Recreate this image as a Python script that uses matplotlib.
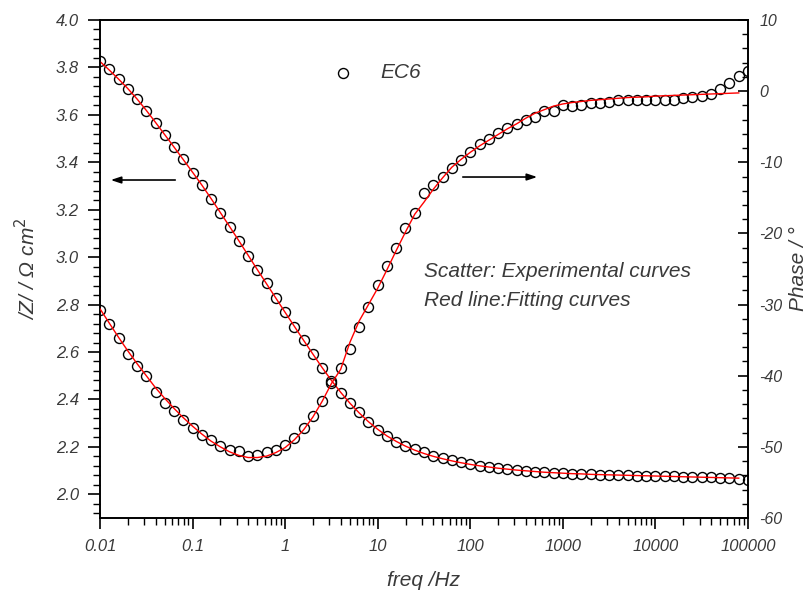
import numpy as np
import matplotlib
matplotlib.use("Agg")
import matplotlib.pyplot as plt
from matplotlib.ticker import MultipleLocator, FixedLocator, FixedFormatter, NullFormatter, LogLocator
from matplotlib.lines import Line2D

# ---------------- data ----------------
# frequency grid: 10 points per decade, 0.01 Hz .. 100 kHz
freq = 10 ** (np.arange(71) / 10.0 - 2)
fit_freq = freq[:70]

# log|Z| experimental (scatter)
logz_exp = [
    3.828, 3.792, 3.753, 3.711, 3.667, 3.617, 3.566, 3.515, 3.464, 3.415,
    3.356, 3.305, 3.246, 3.187, 3.129, 3.070, 3.006, 2.947, 2.889, 2.827,
    2.767, 2.707, 2.650, 2.591, 2.531, 2.478, 2.428, 2.386, 2.345, 2.305,
    2.272, 2.245, 2.222, 2.205, 2.190, 2.177, 2.163, 2.153, 2.144, 2.135,
    2.127, 2.121, 2.115, 2.110, 2.106, 2.102, 2.099, 2.096, 2.093, 2.090,
    2.088, 2.086, 2.085, 2.084, 2.083, 2.082, 2.081, 2.080, 2.079, 2.078,
    2.077, 2.076, 2.075, 2.074, 2.073, 2.072, 2.071, 2.070, 2.068, 2.066,
    2.062,
]
# log|Z| fitted
logz_fit = [
    3.825, 3.789, 3.751, 3.711, 3.667, 3.619, 3.568, 3.516, 3.464, 3.411,
    3.358, 3.304, 3.247, 3.188, 3.129, 3.069, 3.008, 2.947, 2.887, 2.827,
    2.767, 2.708, 2.649, 2.591, 2.534, 2.480, 2.430, 2.384, 2.343, 2.306,
    2.274, 2.246, 2.223, 2.203, 2.186, 2.172, 2.160, 2.150, 2.141, 2.133,
    2.126, 2.120, 2.115, 2.110, 2.106, 2.102, 2.099, 2.096, 2.093, 2.091,
    2.089, 2.087, 2.086, 2.084, 2.083, 2.082, 2.081, 2.080, 2.079, 2.078,
    2.077, 2.076, 2.075, 2.074, 2.073, 2.072, 2.071, 2.070, 2.069, 2.068,
]
# phase experimental (scatter)
phase_exp = [
    -30.8, -32.8, -34.7, -36.9, -38.6, -40.1, -42.3, -43.8, -45.0, -46.2,
    -47.4, -48.4, -49.1, -49.9, -50.4, -50.6, -51.3, -51.2, -50.7, -50.4,
    -49.8, -48.8, -47.4, -45.6, -43.6, -41.0, -38.9, -36.2, -33.2, -30.3,
    -27.2, -24.6, -22.1, -19.2, -17.1, -14.3, -13.2, -12.1, -10.8, -9.7,
    -8.5, -7.4, -6.7, -5.9, -5.2, -4.6, -4.1, -3.6, -2.8, -2.8,
    -1.9, -2.1, -1.9, -1.7, -1.7, -1.5, -1.3, -1.3, -1.3, -1.2,
    -1.2, -1.2, -1.2, -1.0, -0.85, -0.7, -0.35, 0.3, 1.15, 2.15,
    2.8,
]
# phase fitted
phase_fit = [
    -30.6, -32.6, -34.6, -36.5, -38.3, -40.0, -41.7, -43.2, -44.6, -45.9,
    -47.1, -48.2, -49.2, -50.0, -50.7, -51.2, -51.5, -51.5, -51.3, -50.8,
    -50.1, -49.0, -47.6, -45.8, -43.6, -41.1, -39.1, -35.3, -32.3, -30.0,
    -27.7, -25.1, -22.4, -19.8, -17.3, -15.6, -13.8, -12.2, -10.7, -9.6,
    -8.6, -7.7, -6.9, -6.1, -5.3, -4.6, -3.8, -3.1, -2.6, -2.1,
    -1.8, -1.6, -1.45, -1.3, -1.2, -1.1, -1.0, -0.9, -0.85, -0.8,
    -0.7, -0.65, -0.6, -0.55, -0.5, -0.45, -0.4, -0.35, -0.3, -0.25,
]

xtick_vals = [0.01, 0.1, 1, 10, 100, 1000, 10000, 100000]
xtick_labels = ["0.01", "0.1", "1", "10", "100", "1000", "10000", "100000"]
series_label = "EC6"

# ---------------- style ----------------
plt.rcParams["font.family"] = ["Liberation Sans", "DejaVu Sans"]
plt.rcParams["axes.unicode_minus"] = False
tick_color = "#3a3a3a"

fig = plt.figure(figsize=(8.12, 5.92), dpi=100)
ax = fig.add_axes([100 / 812, 1 - 518 / 592, 648 / 812, 498 / 592])
ax2 = ax.twinx()

mk = dict(marker="o", ls="none", mfc="none", mec="black", ms=7.2, mew=1.0)
ax.plot(freq, logz_exp, **mk, zorder=2)
ax.plot(fit_freq, logz_fit, color="red", lw=1.0, zorder=3)
ax2.plot(freq, phase_exp, **mk, zorder=2)
ax2.plot(fit_freq, phase_fit, color="red", lw=1.0, zorder=3)

ax.set_xscale("log")
ax.set_xlim(0.01, 100000)
ax.set_ylim(1.9, 4.0)
ax2.set_ylim(-60, 10)

ax.xaxis.set_major_locator(FixedLocator(xtick_vals))
ax.xaxis.set_major_formatter(FixedFormatter(xtick_labels))
ax.xaxis.set_minor_locator(LogLocator(base=10, subs=np.arange(2, 10), numticks=20))
ax.xaxis.set_minor_formatter(NullFormatter())

ax.yaxis.set_major_locator(MultipleLocator(0.2))
ax.yaxis.set_minor_locator(MultipleLocator(0.04))
ax.yaxis.set_major_formatter(plt.FuncFormatter(lambda v, p: f"{v:.1f}"))
ax2.yaxis.set_major_locator(MultipleLocator(10))
ax2.yaxis.set_minor_locator(MultipleLocator(2))
ax2.yaxis.set_major_formatter(plt.FuncFormatter(lambda v, p: f"{v:.0f}"))

for sp in ax.spines.values():
    sp.set_linewidth(1.2)
for sp in ax2.spines.values():
    sp.set_linewidth(1.2)

ax.tick_params(axis="x", which="major", direction="out", length=8, width=1.2,
               labelsize=12, colors="black", labelcolor=tick_color, pad=7, top=False)
ax.tick_params(axis="x", which="minor", direction="out", length=5, width=1.0, top=False)
ax.tick_params(axis="y", which="major", direction="out", length=9, width=1.2,
               labelsize=12, labelcolor=tick_color, pad=6, right=False)
ax.tick_params(axis="y", which="minor", direction="out", length=5, width=1.0, right=False)
ax2.tick_params(axis="y", which="major", direction="in", length=7, width=1.2,
                labelsize=11.5, labelcolor=tick_color, pad=8)
ax2.tick_params(axis="y", which="minor", direction="in", length=4, width=1.0)

for lab in ax.get_xticklabels() + ax.get_yticklabels() + ax2.get_yticklabels():
    lab.set_fontstyle("italic")

ax.set_xlabel("freq /Hz", fontsize=15, style="italic", color=tick_color, labelpad=12)
ax.set_ylabel("/Z/ / \u03a9 cm$^2$", fontsize=15, style="italic", color=tick_color, labelpad=12)
ax2.set_ylabel("Phase / \u00b0", fontsize=15, style="italic", color=tick_color,
               rotation=90, labelpad=5)

# legend-like entry
ax.add_line(Line2D([0.375], [0.8936], transform=ax.transAxes, **mk))
ax.text(0.432, 0.8936, series_label, transform=ax.transAxes, fontsize=15,
        style="italic", color=tick_color, va="center", ha="left")

ax.text(0.5, 0.494, "Scatter: Experimental curves", transform=ax.transAxes,
        fontsize=15, style="italic", color=tick_color, va="center", ha="left")
ax.text(0.5, 0.4377, "Red line:Fitting curves", transform=ax.transAxes,
        fontsize=15, style="italic", color=tick_color, va="center", ha="left")

arrow = dict(arrowstyle="-|>,head_length=0.6,head_width=0.2", color="black", lw=1.2)
ax.annotate("", xy=(0.0123, 0.6787), xytext=(0.1204, 0.6787),
            xycoords="axes fraction", textcoords="axes fraction", arrowprops=arrow)
ax.annotate("", xy=(0.679, 0.6847), xytext=(0.5556, 0.6847),
            xycoords="axes fraction", textcoords="axes fraction", arrowprops=arrow)

fig.savefig("out.png", dpi=100)
